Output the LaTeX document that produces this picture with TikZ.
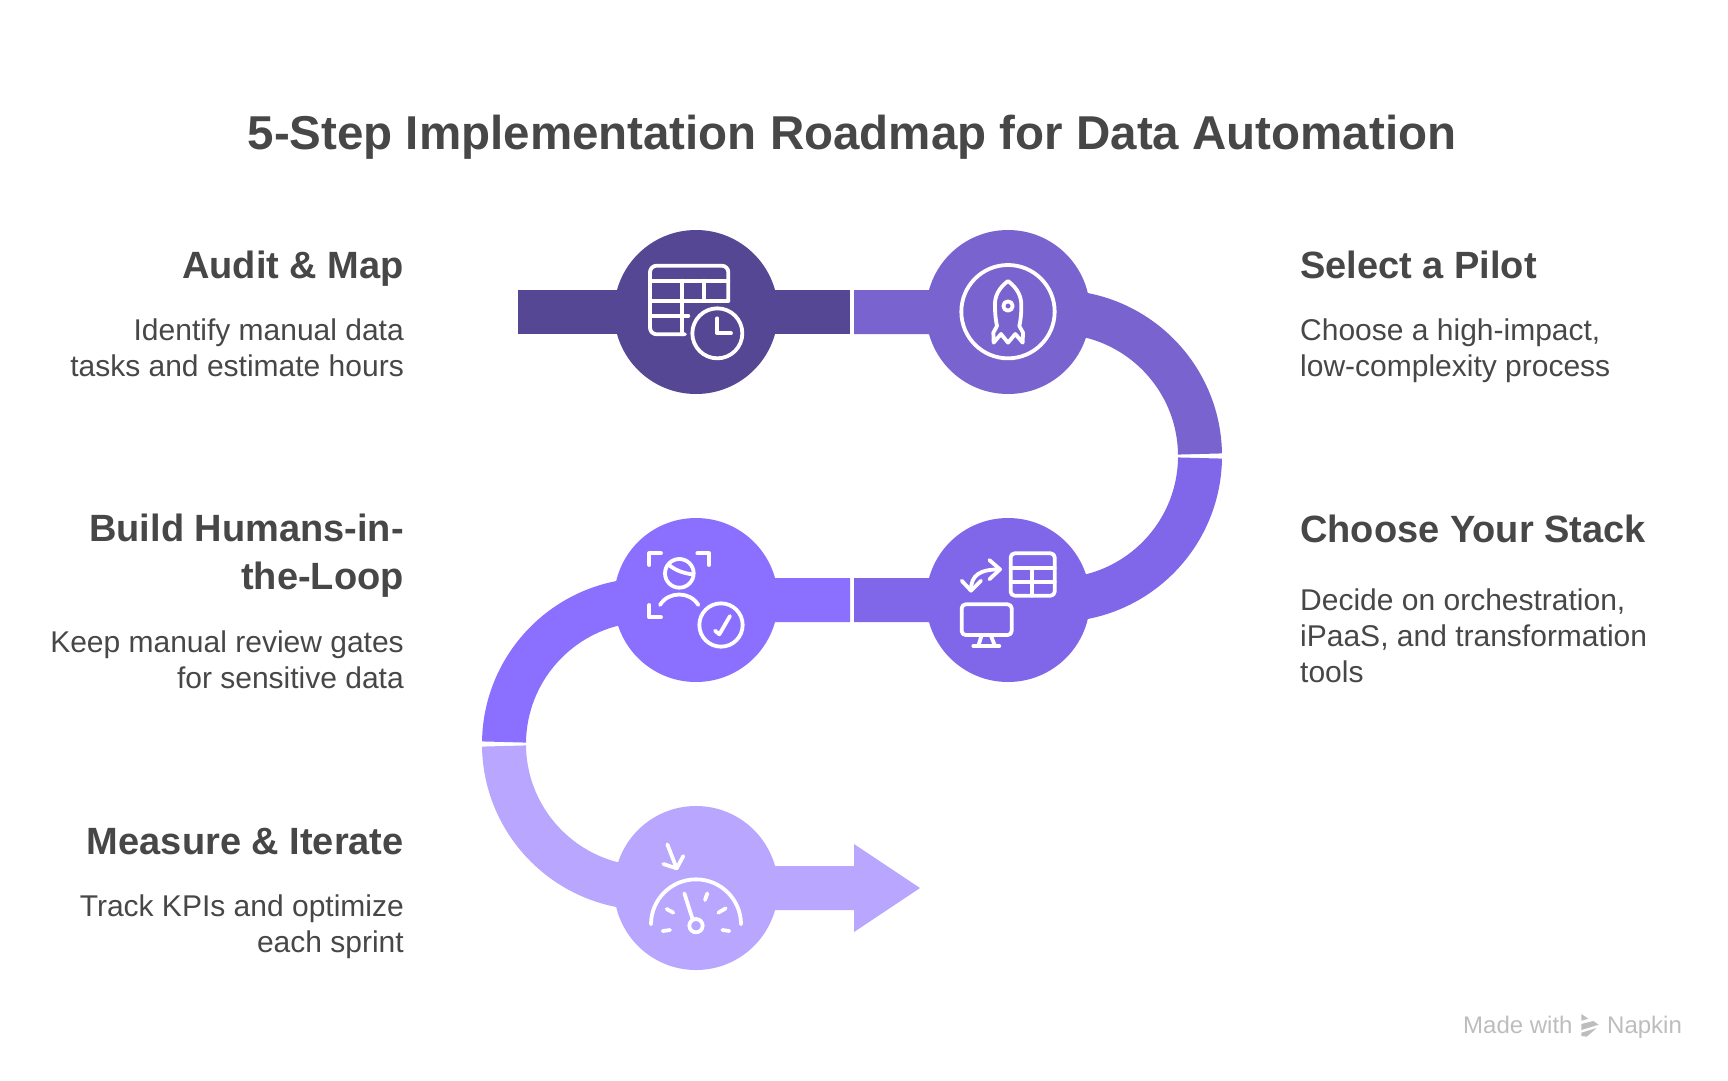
\documentclass[tikz,border=0pt]{standalone}
\usepackage{fontspec}
\setmainfont{Liberation Sans}
\definecolor{titlegray}{HTML}{474747}
\definecolor{stepone}{HTML}{564795}
\definecolor{steptwo}{HTML}{7963CF}
\definecolor{stepthree}{HTML}{8067E9}
\definecolor{stepfour}{HTML}{8B70FF}
\definecolor{stepfive}{HTML}{B8A6FF}
\definecolor{markgray}{HTML}{BDBDBD}
\tikzset{
  stepdot/.style={circle,minimum size=164pt,inner sep=0pt},
  band/.style={line width=44pt},
  icon/.style={draw=white,line width=3.8pt,line cap=round,line join=round},
  headtext/.style={text=titlegray,font=\fontsize{38}{47.5}\selectfont\bfseries,inner sep=0pt},
  bodytext/.style={text=titlegray,font=\fontsize{30}{36}\selectfont,inner sep=0pt},
}
\begin{document}
\begin{tikzpicture}[x=1pt,y=-1pt]
\useasboundingbox (0,0) rectangle (1728,1080);
\node[inner sep=0pt,text=titlegray,font=\fontsize{47.5}{58}\selectfont\bfseries,anchor=base] (title) at (852,149) {5-Step Implementation Roadmap for Data Automation};

%band end points
\coordinate (starta) at (518,312);
\coordinate (enda) at (850,312);
\coordinate (startb) at (854,312);
\coordinate (startc) at (1200,458);
\coordinate (endc) at (854,600);
\coordinate (startd) at (850,600);
\coordinate (starte) at (504,746);
\coordinate (ende) at (854,888);
\coordinate (tipe) at (920,888);
\coordinate (upe) at (854,844);
\coordinate (lowe) at (854,932);

%bands
\draw[band,stepone] (starta)--(enda);
\draw[band,steptwo] (startb)--(1056,312) arc (270:359.2:144);
\draw[band,stepthree] (startc) arc (0.8:90:144)--(endc);
\draw[band,stepfour] (startd)--(648,600) arc (270:180.8:144);
\draw[band,stepfive] (starte) arc (179.2:90:144)--(ende);
\fill[stepfive] (upe)--(tipe)--(lowe)--cycle;

%circles
\node[stepdot,fill=stepone] (audit) at (696,312) {};
\node[stepdot,fill=steptwo] (pilot) at (1008,312) {};
\node[stepdot,fill=stepthree] (stack) at (1008,600) {};
\node[stepdot,fill=stepfour] (build) at (696,600) {};
\node[stepdot,fill=stepfive] (measure) at (696,888) {};

%table and clock
\begin{scope}[shift={(500,210)},scale=1/3]
\draw[icon] (555,373)--(470,373) arc (90:180:20)--(450,187) arc (180:270:20)--(665,167) arc (270:360:20)--(685,272);
\draw[icon] (450,212)--(685,212);
\draw[icon] (450,272)--(685,272);
\draw[icon] (450,317)--(565,317);
\draw[icon] (545,212)--(545,373);
\draw[icon] (613,212)--(613,272);
\draw[icon] (652,370) circle (75);
\draw[icon] (652,325)--(652,370)--(693,370);
\end{scope}

%rocket
\begin{scope}[shift={(860,210)},scale=1/3]
\draw[icon] (444,305) circle (140);
\draw[icon] (444,213) .. controls (415,235) and (403,260) .. (405,290) .. controls (405,310) and (407,330) .. (411,348)--(400,368)--(401,398)--(423,372)--(444,398)--(466,372)--(488,398)--(489,368)--(478,348) .. controls (482,330) and (484,310) .. (484,290) .. controls (485,260) and (473,235) .. (444,213)--cycle;
\draw[icon] (444,288) circle (14);
\end{scope}

%person and check
\begin{scope}[shift={(600,510)},scale=1/3]
\draw[icon] (148,165)--(148,130)--(183,130);
\draw[icon] (292,130)--(327,130)--(327,165);
\draw[icon] (148,285)--(148,322)--(183,322);
\draw[icon] (238,190) circle (43);
\draw[icon] (207,165) .. controls (225,180) and (250,190) .. (278,193);
\draw[icon] (180,285) .. controls (205,243) and (270,243) .. (295,285);
\draw[icon] (363,345) circle (65);
\draw[icon] (345,362)--(358,373)--(390,318);
\end{scope}

%arrows, sheet and monitor
\begin{scope}[shift={(600,510)},scale=1/3]
\draw[icon] (1113,240) .. controls (1113,195) and (1140,178) .. (1200,178);
\draw[icon] (1168,150)--(1200,178)--(1168,208);
\draw[icon] (1085,212)--(1113,242)--(1143,212);
\draw[icon,rounded corners=4pt] (1232,130) rectangle (1364,257);
\draw[icon] (1232,175)--(1364,175);
\draw[icon] (1232,215)--(1364,215);
\draw[icon] (1295,175)--(1295,257);
\draw[icon,rounded corners=4pt] (1085,283) rectangle (1235,375);
\draw[icon] (1145,375)--(1135,408);
\draw[icon] (1172,375)--(1185,408);
\draw[icon] (1120,408)--(1198,408);
\end{scope}

%gauge
\begin{scope}[shift={(470,720)},scale=1/3]
\draw[icon] (592,373)--(620,445);
\draw[icon] (580,432)--(620,445)--(640,408);
\draw[icon] (543,613) arc (180:360:135);
\draw[icon] (643,520)--(668,598);
\draw[icon] (678,617) circle (20);
\draw[icon] (590,567)--(610,578);
\draw[icon] (712,520)--(705,540);
\draw[icon] (767,565)--(745,578);
\draw[icon] (578,633)--(600,630);
\draw[icon] (757,630)--(778,633);
\end{scope}

%left texts
\node[headtext,anchor=base east] (audithead) at (404,278) {Audit \& Map};
\node[bodytext,anchor=base east,align=right] (auditbody) at (404,376) {Identify manual data\\tasks and estimate hours};
\node[headtext,anchor=base east,align=right] (buildhead) at (404,589) {Build Humans-in-\\the-Loop};
\node[bodytext,anchor=base east,align=right] (buildbody) at (404,688) {Keep manual review gates\\for sensitive data};
\node[headtext,anchor=base east] (measurehead) at (404,854) {Measure \& Iterate};
\node[bodytext,anchor=base east,align=right] (measurebody) at (404,952) {Track KPIs and optimize\\each sprint};

%right texts
\node[headtext,anchor=base west] (pilothead) at (1300,278) {Select a Pilot};
\node[bodytext,anchor=base west,align=left] (pilotbody) at (1300,376) {Choose a high-impact,\\low-complexity process};
\node[headtext,anchor=base west] (stackhead) at (1300,542) {Choose Your Stack};
\node[bodytext,anchor=base west,align=left] (stackbody) at (1300,682) {Decide on orchestration,\\iPaaS, and transformation\\tools};

%footer mark
\node[inner sep=0pt,text=markgray,font=\fontsize{24}{28}\selectfont,anchor=base west] (made) at (1463,1033) {Made with};
\node[inner sep=0pt,text=markgray,font=\fontsize{24}{28}\selectfont,anchor=base west] (napkin) at (1607,1033) {Napkin};
\begin{scope}[shift={(1440,1000)},scale=1/3]
\fill[markgray] (424,42)--(445,56)--(424,62)--cycle;
\fill[markgray] (424,72)--(460,63)--(476,74)--(424,90)--cycle;
\fill[markgray] (424,98)--(470,84)--(440,110)--(424,108)--cycle;
\end{scope}
\end{tikzpicture}
\end{document}
